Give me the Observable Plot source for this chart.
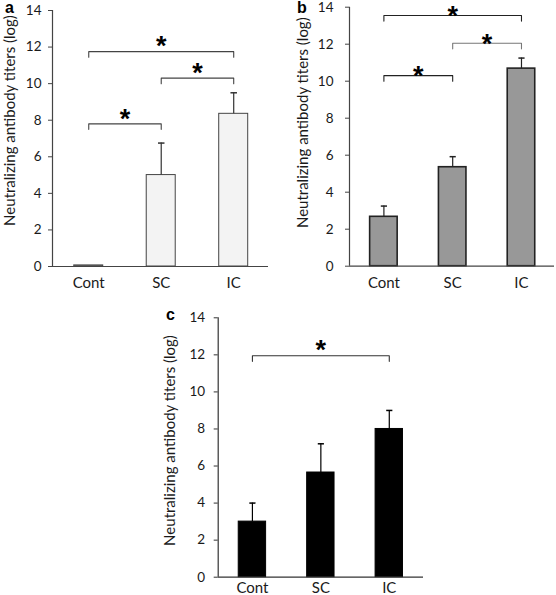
<!DOCTYPE html>
<html><head><meta charset="utf-8">
<script src="https://cdn.jsdelivr.net/npm/d3@7"></script>
<script src="https://cdn.jsdelivr.net/npm/@observablehq/plot@0.6"></script>
<style>
body{margin:0;background:#fff;}
#fig{position:relative;width:556px;height:595px;overflow:hidden;background:#fff;}
.panel{position:absolute;}
.plabel{position:absolute;font-family:"Liberation Sans",Arial,sans-serif;font-weight:bold;font-size:16px;line-height:16px;color:#000;}
</style></head><body><div id="fig"></div>
<script>
const groups = ["Cont", "SC", "IC"];
const yTicks = [0, 2, 4, 6, 8, 10, 12, 14];
const yLabel = "Neutralizing antibody titers (log)";

const aMeans = [0.06, 5.0, 8.35];
const aUpper = [null, 6.75, 9.5];
const aBrackets = [{from: 0, to: 1, level: 7.8}, {from: 1, to: 2, level: 10.3}, {from: 0, to: 2, level: 11.75}];

const bMeans = [2.67, 5.35, 10.68];
const bUpper = [3.25, 5.92, 11.25];
const bBrackets = [{from: 0, to: 1, level: 10.3}, {from: 1, to: 2, level: 12.05}, {from: 0, to: 2, level: 13.55}];
const bBracketColors = ["#222", "#777", "#222"];

const cMeans = [3.0, 5.65, 8.0];
const cUpper = [4.0, 7.2, 9.0];
const cBrackets = [{from: 0, to: 2, level: 11.95}];

const panelLabels = ["a", "b", "c"];

function panel(o) {
  const bars = groups.map((g, i) => ({i, g, mean: o.means[i], upper: o.upper[i]}));
  const errs = bars.filter(d => d.upper != null);
  const hw = 0.2, cap = 0.045, drop = 0.3;
  const brk = o.brackets.map((b, k) => ({...b, color: (o.bracketColors || [])[k] || o.axisColor}));
  const brkPts = brk.flatMap((b, k) => [
    {k, x: b.from, y: b.level - drop, color: b.color},
    {k, x: b.from, y: b.level, color: b.color},
    {k, x: b.to, y: b.level, color: b.color},
    {k, x: b.to, y: b.level - drop, color: b.color}
  ]);
  return Plot.plot({
    width: o.width, height: o.height,
    marginLeft: o.ml, marginRight: o.mr, marginTop: o.mt, marginBottom: o.mb,
    style: {fontFamily: "Lato, sans-serif", color: "#1a1a1a", background: "transparent", overflow: "visible"},
    x: {domain: o.xDomain, axis: null},
    y: {domain: [0, 14], axis: null},
    color: {type: "identity"},
    marks: [
      Plot.axisY({ticks: yTicks, tickSize: 4, tickPadding: o.tp, fontSize: 13.5, stroke: o.axisColor, label: null}),
      Plot.axisX({ticks: [0, 1, 2], tickFormat: i => groups[i], tickSize: 0, tickPadding: o.xtp, fontSize: 15, label: null}),
      Plot.rectY(bars, {x1: d => d.i - hw, x2: d => d.i + hw, y1: 0, y2: "mean", fill: o.fill, stroke: o.stroke, strokeWidth: o.sw}),
      Plot.ruleX(errs, {x: "i", y1: "mean", y2: "upper", stroke: o.errColor, strokeWidth: 1.2}),
      Plot.link(errs, {x1: d => d.i - cap, x2: d => d.i + cap, y1: "upper", y2: "upper", stroke: o.errColor, strokeWidth: 1.5}),
      Plot.ruleY([0], {stroke: o.axisColor, strokeWidth: 1.2}),
      Plot.ruleX([o.xDomain[0]], {stroke: o.axisColor, strokeWidth: 1.2}),
      Plot.line(brkPts, {x: "x", y: "y", z: "k", stroke: "color", strokeWidth: 1.1}),
      Plot.text(brk, {x: d => (d.from + d.to) / 2, y: "level", text: () => "*", fontSize: 27, fontWeight: "bold", fontFamily: "Liberation Sans, Arial, sans-serif", fill: "#000", dy: o.starDy}),
      Plot.text([yLabel], {frameAnchor: "left", textAnchor: "middle", text: d => d, rotate: -90, dx: o.labDx, dy: o.labDy, fontSize: 15, fill: "#1a1a1a"})
    ]
  });
}

const fig = document.getElementById("fig");
function place(node, left, top) {
  const d = document.createElement("div");
  d.className = "panel";
  d.style.left = left + "px"; d.style.top = top + "px";
  d.appendChild(node);
  fig.appendChild(d);
}

place(panel({
  means: aMeans, upper: aUpper, brackets: aBrackets,
  width: 276, height: 300, ml: 52, mr: 8, mt: 10, mb: 34, xDomain: [-0.5, 2.48],
  fill: "#f3f3f3", stroke: "#444", sw: 1, errColor: "#333", axisColor: "#444",
  tp: 7, xtp: 11, starDy: -5, labDx: -42, labDy: -18
}), 0, 0);

place(panel({
  means: bMeans, upper: bUpper, brackets: bBrackets, bracketColors: bBracketColors,
  width: 280, height: 300, ml: 73, mr: 2, mt: 6.7, mb: 34.3, xDomain: [-0.5, 2.48],
  fill: "#989898", stroke: "#222", sw: 1.6, errColor: "#222", axisColor: "#444",
  tp: 12, xtp: 11, starDy: 1, labDx: -46, labDy: -14
}), 276, 0);

place(panel({
  means: cMeans, upper: cUpper, brackets: cBrackets,
  width: 290, height: 295, ml: 77.7, mr: 7, mt: 17.3, mb: 18.3, xDomain: [-0.5, 2.5],
  fill: "#000", stroke: "#000", sw: 1, errColor: "#000", axisColor: "#333",
  tp: 9, xtp: 5, starDy: -5, labDx: -48, labDy: -7
}), 140, 300);

const labelPos = [[5, 0], [297, 0], [166, 307]];
panelLabels.forEach((t, i) => {
  const s = document.createElement("div");
  s.className = "plabel";
  s.textContent = t;
  s.style.left = labelPos[i][0] + "px"; s.style.top = labelPos[i][1] + "px";
  fig.appendChild(s);
});
</script></body></html>
